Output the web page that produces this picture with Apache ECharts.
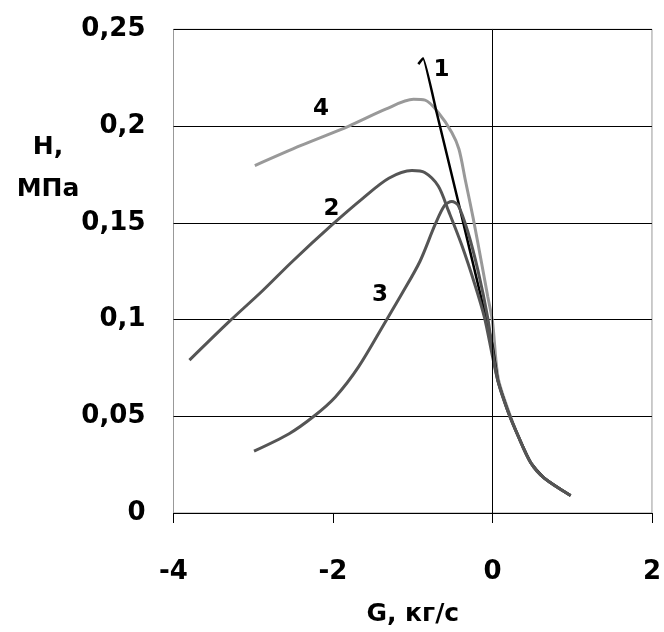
<!DOCTYPE html>
<html>
<head>
<meta charset="utf-8">
<script src="https://cdn.jsdelivr.net/npm/echarts@6/dist/echarts.min.js"></script>
<style>
    html, body {margin: 0; padding: 0; background: #fff;}
    #chart {width: 664px; height: 632px;}
</style>
</head>
<body>
<div id="chart"></div>
<script>
// G, kg/s vs H, MPa for the four curves
var curve1 = [[-0.93, 0.232], [-0.87, 0.235], [-0.70, 0.207], [-0.43, 0.161], [-0.14, 0.111],
    [0.0, 0.087], [0.07, 0.068], [0.19, 0.053], [0.32, 0.040], [0.48, 0.026], [0.65, 0.018], [0.98, 0.009]];
var curve2 = [[-3.80, 0.079], [-3.30, 0.099], [-2.88, 0.115], [-2.51, 0.130], [-2.01, 0.149],
    [-1.63, 0.1625], [-1.30, 0.173], [-1.01, 0.177], [-0.85, 0.176], [-0.68, 0.169], [-0.55, 0.156],
    [-0.39, 0.139], [-0.22, 0.118], [-0.10, 0.101], [0.0, 0.081], [0.07, 0.068], [0.19, 0.053],
    [0.32, 0.040], [0.48, 0.026], [0.65, 0.018], [0.98, 0.009]];
var curve3 = [[-2.99, 0.032], [-2.55, 0.041], [-2.24, 0.050], [-1.97, 0.060], [-1.68, 0.0755],
    [-1.34, 0.099], [-1.14, 0.113], [-0.91, 0.130], [-0.72, 0.149], [-0.60, 0.159], [-0.51, 0.161],
    [-0.43, 0.159], [-0.31, 0.1455], [-0.18, 0.125], [-0.06, 0.101], [0.0, 0.084], [0.07, 0.068],
    [0.19, 0.053], [0.32, 0.040], [0.48, 0.026], [0.65, 0.018], [0.98, 0.009]];
var curve4 = [[-2.98, 0.1796], [-2.40, 0.190], [-1.80, 0.200], [-1.34, 0.2087], [-0.99, 0.2138],
    [-0.845, 0.2134], [-0.68, 0.207], [-0.51, 0.1967], [-0.42, 0.188], [-0.34, 0.172], [-0.24, 0.152],
    [-0.14, 0.130], [-0.06, 0.112], [0.0, 0.099], [0.07, 0.070], [0.19, 0.054], [0.32, 0.040],
    [0.48, 0.026], [0.65, 0.018], [0.98, 0.009]];
var curveNames = ["1", "2", "3", "4"];

var font = "DejaVu Sans, Arial, sans-serif";
var chart = echarts.init(document.getElementById("chart"));

var lbl = function (text, x, y) {
    return {
        coord: [x, y], value: text, symbol: "circle", symbolSize: 0,
        label: {show: true, formatter: text, position: "inside", color: "#000",
            fontSize: 23, fontWeight: "bold", fontFamily: font}
    };
};

var option = {
    animation: false,
    backgroundColor: "#fff",
    grid: {left: 173.5, right: 9, top: 29.3, bottom: 114.7, show: true,
        borderColor: "#999", borderWidth: 1, backgroundColor: "transparent"},
    xAxis: {
        type: "value", min: -4, max: 2, interval: 2,
        name: "G, кг/с", nameLocation: "middle", nameGap: 89,
        nameTextStyle: {fontSize: 25, fontWeight: "bold", fontFamily: font, color: "#000"},
        axisLine: {onZero: false, lineStyle: {color: "#000", width: 1}},
        axisTick: {show: true, inside: false, length: 10, lineStyle: {color: "#000"}},
        axisLabel: {margin: 46, fontSize: 26, fontWeight: "bold", fontFamily: font, color: "#000"},
        splitLine: {show: false}
    },
    yAxis: {
        type: "value", min: 0, max: 0.25, interval: 0.05,
        axisLine: {show: true, lineStyle: {color: "#888", width: 1}},
        axisTick: {show: true, length: 4, lineStyle: {color: "#000"}},
        axisLabel: {margin: 28, fontSize: 26, fontWeight: "bold", fontFamily: font, color: "#000",
            formatter: function (v) {
                return String(+v.toFixed(2)).replace(".", ",");
            }},
        splitLine: {show: true, lineStyle: {color: "#000", width: 1}}
    },
    graphic: [{
        type: "text", x: 48, y: 147,
        style: {text: "H,", font: "bold 25px " + font, fill: "#000",
            align: "center", verticalAlign: "middle"}
    }, {
        type: "text", x: 48, y: 189,
        style: {text: "МПа", font: "bold 25px " + font, fill: "#000",
            align: "center", verticalAlign: "middle"}
    }],
    series: [{
        name: curveNames[3], type: "line", data: curve4, smooth: 0.3, showSymbol: false,
        lineStyle: {color: "#999", width: 3}, z: 2,
        markLine: {silent: true, symbol: "none", label: {show: false},
            lineStyle: {color: "#000", width: 1, type: "solid"},
            data: [{xAxis: 0}]},
        markPoint: {data: [lbl("4", -2.15, 0.2087)]}
    }, {
        name: curveNames[0], type: "line", data: curve1, smooth: 0.1, showSymbol: false,
        lineStyle: {color: "#000", width: 2.5}, z: 3,
        markPoint: {data: [lbl("1", -0.64, 0.229)]}
    }, {
        name: curveNames[1], type: "line", data: curve2, smooth: 0.3, showSymbol: false,
        lineStyle: {color: "#555", width: 3}, z: 4,
        markPoint: {data: [lbl("2", -2.02, 0.157)]}
    }, {
        name: curveNames[2], type: "line", data: curve3, smooth: 0.3, showSymbol: false,
        lineStyle: {color: "#555", width: 3}, z: 4,
        markPoint: {data: [lbl("3", -1.41, 0.1125)]}
    }]
};
chart.setOption(option);
</script>
</body>
</html>
